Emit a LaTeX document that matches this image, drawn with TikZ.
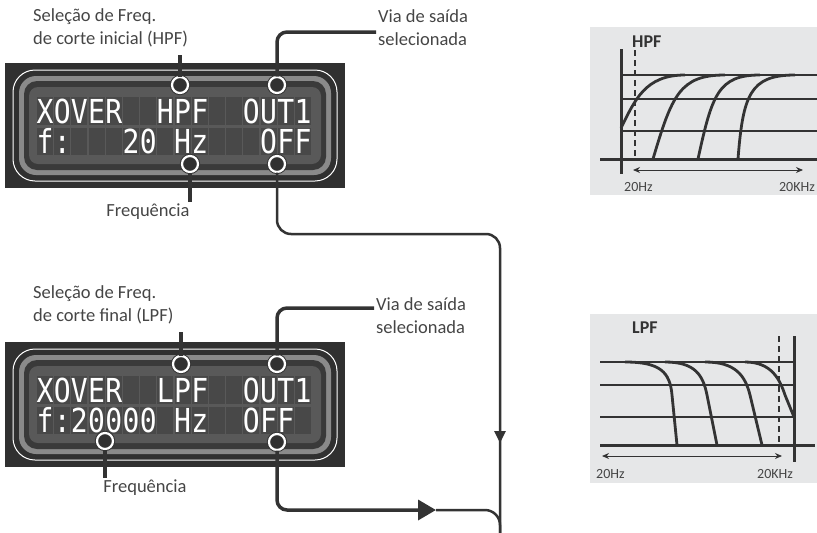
\documentclass[tikz,border=0pt]{standalone}
\usepackage{fontspec}
\setmainfont{Carlito}
\newfontfamily\lcdfont[FakeStretch=0.85]{DejaVu Sans Mono}
\usetikzlibrary{arrows.meta,decorations.markings}
\definecolor{linecol}{HTML}{333333}
\definecolor{textcol}{HTML}{454545}
\definecolor{casecol}{HTML}{303030}
\definecolor{bandcol}{HTML}{8A8A8A}
\definecolor{ringcol}{HTML}{3A3A3A}
\definecolor{screencol}{HTML}{595959}
\definecolor{cellcol}{HTML}{484848}
\definecolor{chartbg}{HTML}{E6E7E8}
\tikzset{
  x=1pt, y=-1pt,
  label_txt/.style = {align=left, text=textcol, inner sep=2pt, font=\fontsize{18.5}{23}\selectfont},
  lcd_chr/.style = {white, inner sep=0pt, anchor=base, font=\lcdfont\fontsize{33}{33}\selectfont},
  tag_dot/.style = {circle, fill=casecol, draw=linecol, double=white, double distance=2.2pt, line width=1pt, minimum size=16pt, inner sep=0pt},
  tag_line/.style = {draw=linecol, line width=3.5pt, rounded corners=10pt},
  bus_line/.style = {draw=linecol, line width=2.5pt, rounded corners=14pt},
  axis_line/.style = {draw=linecol, line width=3pt},
  grid_line/.style = {draw=linecol, line width=2pt},
  curve_line/.style = {draw=linecol, line width=2.8pt},
  cut_line/.style = {draw=linecol, line width=1.2pt, dash pattern=on 6pt off 4pt},
  span_arrow/.style = {draw=linecol, line width=1pt, {Stealth[length=7pt,width=6pt]}-{Stealth[length=7pt,width=6pt]}},
  chart_title/.style = {text=linecol, inner sep=0pt, font=\fontsize{18}{18}\selectfont\bfseries},
  chart_txt/.style = {text=textcol, inner sep=0pt, font=\fontsize{14}{14}\selectfont}
}
% one LCD panel: vertical offset, first row, second row
\newcommand{\lcdpanel}[3]{%
  \begin{scope}[shift={(0,#1)}]
    \fill[casecol] (5,63) rectangle (345,188);
    \draw[white, line width=1pt, rounded corners=22pt] (13,70) rectangle (337,181);
    \fill[bandcol, rounded corners=17pt] (19,76) rectangle (331,175);
    \fill[ringcol, rounded corners=13pt] (24,81) rectangle (326,170);
    \fill[screencol, rounded corners=9pt] (29,87) rectangle (321,164);
    \foreach \ch [count=\i from 0] in {#2} {
      \fill[cellcol] (37+\i*17.2,97) rectangle ++(16,28);
      \node[lcd_chr] at (45+\i*17.2,123) {\ch};
    }
    \foreach \ch [count=\i from 0] in {#3} {
      \fill[cellcol] (37+\i*17.2,128) rectangle ++(16,27);
      \node[lcd_chr] at (45+\i*17.2,153) {\ch};
    }
  \end{scope}}

\begin{document}
\begin{tikzpicture}
  \useasboundingbox (0,0) rectangle (817,533);

  % displays
  \lcdpanel{0}{X,O,V,E,R,{},{},H,P,F,{},{},O,U,T,1}{f,:,{},{},{},2,0,{},H,z,{},{},{},O,F,F}
  \lcdpanel{279}{X,O,V,E,R,{},{},L,P,F,{},{},O,U,T,1}{f,:,2,0,0,0,0,{},H,z,{},{},O,F,F,{}}

  % labels
  \node[label_txt, anchor=west] (hpflabel) at (31,28) {Seleção de Freq.\\de corte inicial (HPF)};
  \node[label_txt, anchor=west] (vialabela) at (376,28) {Via de saída\\selecionada};
  \node[label_txt] (freqlabela) at (148,212) {Frequência};
  \node[label_txt, anchor=west] (lpflabel) at (31,305) {Seleção de Freq.\\de corte final (LPF)};
  \node[label_txt, anchor=west] (vialabelb) at (374,316) {Via de saída\\selecionada};
  \node[label_txt] (freqlabelb) at (145,488) {Frequência};

  % marker dots
  \node[tag_dot] (hpfdot) at (180,85) {};
  \node[tag_dot] (outdota) at (277,85) {};
  \node[tag_dot] (hzdot) at (190,164) {};
  \node[tag_dot] (offdota) at (277,164) {};
  \node[tag_dot] (lpfdot) at (181,364) {};
  \node[tag_dot] (outdotb) at (277,364) {};
  \node[tag_dot] (freqdot) at (105,441) {};
  \node[tag_dot] (offdotb) at (277,442) {};

  % pointers
  \draw[tag_line, shorten >=6pt] (hpfdot.north) -- (hpfdot.north |- hpflabel.south);
  \draw[tag_line] (outdota.north) |- ([yshift=-4pt]vialabela.west);
  \draw[tag_line] (hzdot.south) -- (hzdot.south |- freqlabela.north);
  \draw[tag_line, shorten >=6pt] (lpfdot.north) -- (lpfdot.north |- lpflabel.south);
  \draw[tag_line] (outdotb.north) |- ([yshift=8pt]vialabelb.west);
  \draw[tag_line] (freqdot.south) -- (freqdot.south |- freqlabelb.north);

  % signal path
  \coordinate (busturn) at (500,234);
  \coordinate (busend) at (500,533);
  \coordinate (joinpt) at (436,510);
  \draw[bus_line, postaction={decorate}, decoration={markings,
    mark=at position -90pt with {\arrow{Triangle[length=12pt,width=11pt]}}}]
    (offdota.south) |- (busturn) -- (busend);
  \draw[tag_line, -{Triangle[length=18pt,width=20pt]}] (offdotb.south) |- (joinpt);
  \draw[bus_line, rounded corners=15pt] (joinpt) -| (busend);

  % HPF chart
  \fill[chartbg] (590,27) rectangle (817,195);
  \node[chart_title, anchor=west] (hpftitle) at (632,42) {HPF};
  \foreach \gy in {99,131} \draw[grid_line] (621,\gy) -- (817,\gy);
  \draw[curve_line] (621,75) -- (817,75);
  \draw[cut_line] (635,50) -- (635,159);
  \draw[curve_line] (621,128) .. controls (635,100) and (645,75) .. (685,75);
  \draw[curve_line] (653,159) .. controls (672,95) and (680,75) .. (725,75);
  \draw[curve_line] (698,159) .. controls (712,95) and (718,75) .. (760,75);
  \draw[curve_line] (738,159) .. controls (743,95) and (750,75) .. (795,75);
  \draw[axis_line] (621,49) -- (621,174);
  \draw[axis_line] (600,159) -- (817,159);
  \draw[span_arrow] (633,170) -- (803,170);
  \node[chart_txt, anchor=west] (hpflow) at (624,187) {20Hz};
  \node[chart_txt, anchor=east] (hpfhigh) at (815,187) {20KHz};

  % LPF chart
  \fill[chartbg] (590,314) rectangle (817,483);
  \node[chart_title, anchor=west] (lpftitle) at (632,328) {LPF};
  \foreach \gy in {385,417} \draw[grid_line] (600,\gy) -- (794,\gy);
  \draw[curve_line] (600,362) -- (794,362);
  \draw[cut_line] (779,336) -- (779,445);
  \draw[curve_line] (625,362) .. controls (660,362) and (670,372) .. (672,395) -- (677,445);
  \draw[curve_line] (665,362) .. controls (695,362) and (703,375) .. (707,395) -- (717,445);
  \draw[curve_line] (705,362) .. controls (735,362) and (745,375) .. (750,395) -- (762,445);
  \draw[curve_line] (745,362) .. controls (772,362) and (780,380) .. (785,395) -- (794,417);
  \draw[axis_line] (794,336) -- (794,462);
  \draw[axis_line] (600,445) -- (815,445);
  \draw[span_arrow] (602,456) -- (782,456);
  \node[chart_txt, anchor=west] (lpflow) at (596,474) {20Hz};
  \node[chart_txt, anchor=west] (lpfhigh) at (757,474) {20KHz};
\end{tikzpicture}
\end{document}
